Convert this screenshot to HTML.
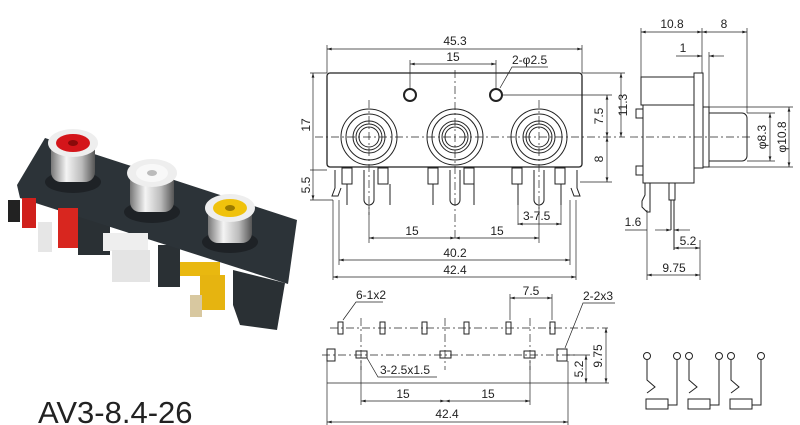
<!DOCTYPE html>
<html><head><meta charset="utf-8"><style>
html,body{margin:0;padding:0;background:#fff}
svg{display:block}
text{font-family:"Liberation Sans",Arial,sans-serif;fill:#222}
</style></head><body>
<svg width="800" height="425" viewBox="0 0 800 425" xmlns="http://www.w3.org/2000/svg">
<defs>
<marker id="a" viewBox="0 0 10 6" refX="10" refY="3" markerWidth="8" markerHeight="4" orient="auto-start-reverse"><path d="M0,0L10,3L0,6z" fill="#222"/></marker>
<linearGradient id="sil" x1="0" x2="1"><stop offset="0" stop-color="#777"/><stop offset=".35" stop-color="#f4f4f4"/><stop offset=".7" stop-color="#bbb"/><stop offset="1" stop-color="#555"/></linearGradient>
</defs>

<!-- PHOTO -->
<g>
<rect x="78" y="215" width="32" height="40" fill="#2a3034"/>
<rect x="158" y="245" width="22" height="42" fill="#2a3034"/>
<polygon points="233,270 285,283 277,330 240,325 233,305" fill="#2a3034"/>
<polygon points="17,185 45,138 297,220 288,284 20,198" fill="#2c3338"/>
<rect x="8" y="200" width="12" height="22" fill="#222"/>
<rect x="22" y="198" width="14" height="30" fill="#d0201c"/>
<rect x="58" y="208" width="20" height="40" fill="#d8261f"/>
<rect x="38" y="222" width="14" height="30" fill="#e6e6e6"/>
<rect x="103" y="233" width="45" height="18" fill="#eee"/>
<rect x="112" y="250" width="38" height="32" fill="#e4e4e4"/>
<rect x="180" y="262" width="40" height="14" fill="#e9b810"/>
<rect x="200" y="275" width="25" height="35" fill="#e6b410"/>
<rect x="190" y="295" width="12" height="22" fill="#d8c8a0"/>
<g>
<ellipse cx="73" cy="182" rx="28" ry="11" fill="#1e2226"/>
<rect x="51" y="140" width="44" height="42" rx="10" fill="url(#sil)"/>
<ellipse cx="73" cy="143" rx="25" ry="14" fill="#eee"/>
<ellipse cx="73" cy="143" rx="17" ry="9" fill="#d4151a"/>
<ellipse cx="73" cy="143" rx="5" ry="3" fill="#8a0a0a"/>
</g>
<g>
<ellipse cx="152" cy="212" rx="28" ry="11" fill="#1e2226"/>
<rect x="130" y="170" width="44" height="42" rx="10" fill="url(#sil)"/>
<ellipse cx="152" cy="173" rx="25" ry="14" fill="#eee"/>
<ellipse cx="152" cy="173" rx="16" ry="9" fill="#f8f8f8"/>
<ellipse cx="152" cy="173" rx="5" ry="3" fill="#bbb"/>
</g>
<g>
<ellipse cx="230" cy="242" rx="28" ry="11" fill="#1e2226"/>
<rect x="208" y="203" width="44" height="40" rx="10" fill="url(#sil)"/>
<ellipse cx="230" cy="208" rx="25" ry="14" fill="#eee"/>
<ellipse cx="230" cy="208" rx="17" ry="9" fill="#f0c20c"/>
<ellipse cx="230" cy="208" rx="5" ry="3" fill="#9a7a00"/>
</g>
<text x="38" y="423" font-size="31" fill="#111">AV3-8.4-26</text>
</g>

<!-- FRONT VIEW -->
<g stroke="#222" fill="none" stroke-width="1">
<rect x="327" y="73" width="255" height="94" rx="3" stroke-width="1.3"/>
<circle cx="410" cy="95" r="6" stroke-width="2"/><circle cx="496" cy="95" r="6" stroke-width="2"/>
<g id="j"><circle cx="369" cy="137" r="28"/><circle cx="369" cy="137" r="23"/><circle cx="369" cy="137" r="16"/><circle cx="369" cy="137" r="13"/><circle cx="369" cy="137" r="10"/></g>
<use href="#j" x="86"/><use href="#j" x="170"/>
<g stroke-dasharray="8,3,2,3" stroke-width=".7">
<line x1="315" y1="137" x2="625" y2="137"/>
<line x1="369" y1="100" x2="369" y2="215"/><line x1="455" y1="70" x2="455" y2="240"/><line x1="539" y1="100" x2="539" y2="215"/>
</g>
<g stroke-width="1">
<path d="M335,170v18l-3,8h6l3-8"/><path d="M577,170v18l3,8h-6l-3-8"/>
<rect x="342" y="168" width="10" height="16"/><rect x="378" y="168" width="10" height="16"/>
<rect x="428" y="168" width="10" height="16"/><rect x="464" y="168" width="10" height="16"/>
<rect x="512" y="168" width="10" height="16"/><rect x="555" y="168" width="10" height="16"/>
<line x1="347" y1="184" x2="347" y2="205"/><line x1="390" y1="184" x2="390" y2="205"/>
<line x1="433" y1="184" x2="433" y2="205"/><line x1="474" y1="184" x2="474" y2="205"/>
<line x1="518" y1="184" x2="518" y2="205"/><line x1="561" y1="184" x2="561" y2="205"/>
<path d="M364,170v30a5,5 0 0 0 10,0v-30"/><path d="M450,170v30a5,5 0 0 0 10,0v-30"/><path d="M534,170v30a5,5 0 0 0 10,0v-30"/>
</g>
<g stroke-width=".7">
<line x1="327" y1="45" x2="327" y2="73"/><line x1="582" y1="45" x2="582" y2="73"/>
<line x1="327" y1="49" x2="582" y2="49" marker-start="url(#a)" marker-end="url(#a)"/>
<line x1="410" y1="60" x2="410" y2="90"/><line x1="496" y1="60" x2="496" y2="90"/>
<line x1="410" y1="64" x2="496" y2="64" marker-start="url(#a)" marker-end="url(#a)"/>
<polyline points="548,67 512,67 500,88"/>
<line x1="310" y1="73" x2="327" y2="73"/><line x1="310" y1="200" x2="333" y2="200"/><line x1="310" y1="170" x2="327" y2="170"/>
<line x1="313" y1="73" x2="313" y2="200" marker-start="url(#a)" marker-end="url(#a)"/>
<line x1="502" y1="95" x2="612" y2="95"/><line x1="582" y1="73" x2="625" y2="73"/><line x1="580" y1="182" x2="612" y2="182"/>
<line x1="607" y1="95" x2="607" y2="137" marker-start="url(#a)" marker-end="url(#a)"/>
<line x1="607" y1="137" x2="607" y2="182" marker-start="url(#a)" marker-end="url(#a)"/>
<line x1="621" y1="73" x2="621" y2="137" marker-start="url(#a)" marker-end="url(#a)"/>
<line x1="518" y1="205" x2="518" y2="225"/><line x1="561" y1="205" x2="561" y2="225"/>
<line x1="518" y1="224" x2="561" y2="224" marker-start="url(#a)" marker-end="url(#a)"/>
<line x1="369" y1="205" x2="369" y2="243"/><line x1="539" y1="205" x2="539" y2="243"/>
<line x1="369" y1="238" x2="455" y2="238" marker-start="url(#a)" marker-end="url(#a)"/>
<line x1="455" y1="238" x2="539" y2="238" marker-start="url(#a)" marker-end="url(#a)"/>
<line x1="339" y1="200" x2="339" y2="265"/><line x1="570" y1="200" x2="570" y2="265"/>
<line x1="339" y1="260" x2="570" y2="260" marker-start="url(#a)" marker-end="url(#a)"/>
<line x1="333" y1="200" x2="333" y2="280"/><line x1="576" y1="200" x2="576" y2="280"/>
<line x1="333" y1="277" x2="576" y2="277" marker-start="url(#a)" marker-end="url(#a)"/>
</g>
</g>
<g font-size="12">
<text x="455" y="45" text-anchor="middle">45.3</text>
<text x="453" y="61" text-anchor="middle">15</text>
<text x="512" y="64">2-φ2.5</text>
<text x="412" y="235" text-anchor="middle">15</text>
<text x="497" y="235" text-anchor="middle">15</text>
<text x="455" y="257" text-anchor="middle">40.2</text>
<text x="455" y="274" text-anchor="middle">42.4</text>
<text x="523" y="220">3-7.5</text>
<text transform="translate(310,125) rotate(-90)" text-anchor="middle">17</text>
<text transform="translate(310,185) rotate(-90)" text-anchor="middle">5.5</text>
<text transform="translate(603,116) rotate(-90)" text-anchor="middle">7.5</text>
<text transform="translate(603,159) rotate(-90)" text-anchor="middle">8</text>
<text transform="translate(627,105) rotate(-90)" text-anchor="middle">11.3</text>
</g>

<!-- SIDE VIEW -->
<g stroke="#222" fill="none" stroke-width="1">
<rect x="641" y="77" width="53" height="28"/>
<rect x="643" y="105" width="51" height="78"/>
<rect x="694" y="73" width="9" height="95"/>
<rect x="703" y="107" width="6" height="60"/>
<path d="M709,113h33a5,5 0 0 1 5,5v38a5,5 0 0 1-5,5h-33"/>
<rect x="636" y="109" width="7" height="9"/><rect x="636" y="166" width="7" height="9"/>
<path d="M645,183v12l-3,6v6l5,5h3v-29"/>
<path d="M669,183v17h6v-17"/><line x1="671" y1="200" x2="671" y2="230"/><line x1="674" y1="200" x2="674" y2="250"/>
<line x1="630" y1="137" x2="752" y2="137" stroke-dasharray="8,3,2,3" stroke-width=".7"/>
<g stroke-width=".7">
<line x1="641" y1="28" x2="641" y2="77"/><line x1="702" y1="28" x2="702" y2="73"/><line x1="747" y1="28" x2="747" y2="113"/>
<line x1="641" y1="32" x2="702" y2="32" marker-start="url(#a)" marker-end="url(#a)"/>
<line x1="702" y1="32" x2="747" y2="32" marker-start="url(#a)" marker-end="url(#a)"/>
<line x1="709" y1="52" x2="709" y2="107"/>
<line x1="676" y1="56" x2="702" y2="56" marker-end="url(#a)"/><line x1="709" y1="56" x2="724" y2="56" marker-start="url(#a)"/>
<line x1="747" y1="113" x2="775" y2="113"/><line x1="747" y1="161" x2="775" y2="161"/>
<line x1="709" y1="107" x2="793" y2="107"/><line x1="709" y1="167" x2="793" y2="167"/>
<line x1="770" y1="113" x2="770" y2="161" marker-start="url(#a)" marker-end="url(#a)"/>
<line x1="789" y1="107" x2="789" y2="167" marker-start="url(#a)" marker-end="url(#a)"/>
<line x1="647" y1="210" x2="647" y2="280"/><line x1="700" y1="240" x2="700" y2="280"/>
<line x1="655" y1="230" x2="671" y2="230" marker-end="url(#a)"/><line x1="674" y1="230" x2="690" y2="230" marker-start="url(#a)"/>
<line x1="674" y1="248" x2="700" y2="248" marker-start="url(#a)" marker-end="url(#a)"/>
<line x1="647" y1="275" x2="700" y2="275" marker-start="url(#a)" marker-end="url(#a)"/>
<line x1="625" y1="230" x2="647" y2="230"/>
</g>
</g>
<g font-size="12">
<text x="672" y="28" text-anchor="middle">10.8</text>
<text x="724" y="28" text-anchor="middle">8</text>
<text x="683" y="52" text-anchor="middle">1</text>
<text x="633" y="226" text-anchor="middle">1.6</text>
<text x="688" y="245" text-anchor="middle">5.2</text>
<text x="674" y="272" text-anchor="middle">9.75</text>
<text transform="translate(766,137) rotate(-90)" text-anchor="middle">φ8.3</text>
<text transform="translate(786,137) rotate(-90)" text-anchor="middle">φ10.8</text>
</g>

<!-- FOOTPRINT -->
<g stroke="#222" fill="none" stroke-width="1">
<g stroke-dasharray="8,3,2,3" stroke-width=".7">
<line x1="330" y1="328" x2="608" y2="328"/><line x1="322" y1="355" x2="575" y2="355"/>
<line x1="361" y1="318" x2="361" y2="370"/><line x1="445" y1="318" x2="445" y2="370"/><line x1="530" y1="318" x2="530" y2="370"/>
</g>
<rect x="338" y="322" width="5" height="12"/><rect x="380" y="322" width="5" height="12"/><rect x="422" y="322" width="5" height="12"/>
<rect x="464" y="322" width="5" height="12"/><rect x="506" y="322" width="5" height="12"/><rect x="550" y="322" width="5" height="12"/>
<rect x="327" y="349" width="8" height="12"/><rect x="557" y="349" width="10" height="12"/>
<rect x="356" y="351" width="11" height="7"/><rect x="440" y="351" width="11" height="7"/><rect x="524" y="351" width="11" height="7"/>
<g stroke-width=".7">
<polyline points="383,302 356,302 343,320"/>
<polyline points="615,303 583,303 565,348"/>
<polyline points="367,358 378,377 437,377"/>
<line x1="510" y1="294" x2="510" y2="320"/><line x1="552" y1="294" x2="552" y2="320"/>
<line x1="510" y1="298" x2="552" y2="298" marker-start="url(#a)" marker-end="url(#a)"/>
<line x1="327" y1="383" x2="609" y2="383"/>
<line x1="327" y1="355" x2="327" y2="425"/><line x1="568" y1="361" x2="568" y2="425"/>
<line x1="361" y1="360" x2="361" y2="405"/><line x1="530" y1="360" x2="530" y2="405"/>
<line x1="361" y1="401" x2="445" y2="401" marker-start="url(#a)" marker-end="url(#a)"/>
<line x1="445" y1="401" x2="530" y2="401" marker-start="url(#a)" marker-end="url(#a)"/>
<line x1="327" y1="422" x2="568" y2="422" marker-start="url(#a)" marker-end="url(#a)"/>
<line x1="567" y1="355" x2="590" y2="355"/>
<line x1="606" y1="328" x2="606" y2="383" marker-start="url(#a)" marker-end="url(#a)"/>
<line x1="586" y1="355" x2="586" y2="383" marker-start="url(#a)" marker-end="url(#a)"/>
</g>
</g>
<g font-size="12">
<text x="356" y="299">6-1x2</text>
<text x="531" y="295" text-anchor="middle">7.5</text>
<text x="583" y="300">2-2x3</text>
<text x="380" y="374">3-2.5x1.5</text>
<text x="403" y="398" text-anchor="middle">15</text>
<text x="488" y="398" text-anchor="middle">15</text>
<text x="447" y="418" text-anchor="middle">42.4</text>
<text transform="translate(602,356) rotate(-90)" text-anchor="middle">9.75</text>
<text transform="translate(583,369) rotate(-90)" text-anchor="middle">5.2</text>
</g>

<!-- SCHEMATIC -->
<g stroke="#222" fill="none" stroke-width="1">
<g id="s">
<circle cx="647" cy="356" r="3.5"/><circle cx="677" cy="356" r="3.5"/>
<polyline points="647,360 647,380 655,387 647,393"/>
<polyline points="677,360 677,405 668,405"/>
<rect x="646" y="399" width="22" height="10"/>
</g>
<use href="#s" x="42"/><use href="#s" x="84"/>
</g>
</svg>
</body></html>
